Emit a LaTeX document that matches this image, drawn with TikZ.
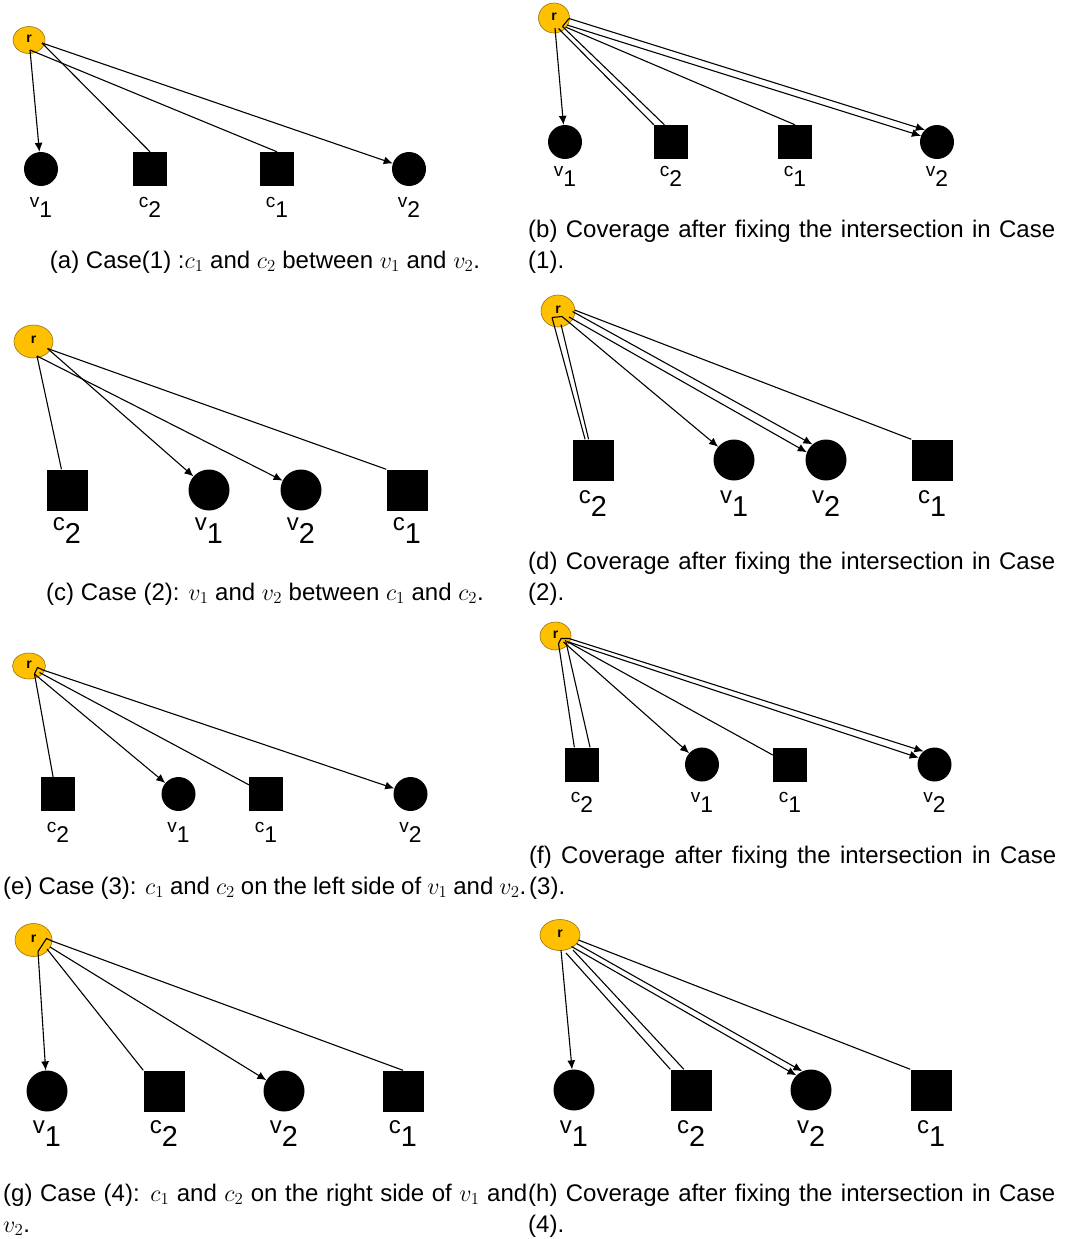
\RequirePackage{fix-cm}
\documentclass[tikz,border=0pt]{standalone}
\usepackage{amsmath}
\usepackage{graphicx}
\usepackage{fontspec}
\setmainfont{Liberation Sans}
\usetikzlibrary{arrows.meta,shapes.geometric}
\newcommand{\subidx}[1]{\raisebox{-.55em}{\scalebox{1.2}{#1}}}

\begin{document}
\begin{tikzpicture}[x=1pt, y=-1pt,
  root/.style={ellipse, draw={rgb,255:red,150;green,115;blue,20}, line width=.6pt,
    fill={rgb,255:red,255;green,192;blue,0}, inner sep=0pt, text depth=3pt,
    font=\bfseries\fontsize{14}{14}\selectfont},
  blob/.style={fill=black, inner sep=0pt},
  lbl/.style={anchor=base, inner sep=0pt, font=\fontsize{#1}{#1}\selectfont},
  link/.style={line width=1.1pt},
  arr/.style={link, -{Latex[length=9pt,width=8pt]}},
  subcap/.style={inner sep=0pt, font=\fontsize{24}{31}\selectfont}]
  \useasboundingbox (0,0) rectangle (1071,1239);

  \node[root, minimum width=32, minimum height=27] (a-r) at (29,40) {r};
  \coordinate (a-p1) at (30,50);
  \coordinate (a-p2) at (42,43);
  \foreach \n/\s/\x/\ltr/\idx in {v1/circle/41/v/1, c2/rectangle/150/c/2, c1/rectangle/277/c/1, v2/circle/409/v/2} {
    \node[blob, shape=\s, minimum size=34] (a-\n) at (\x,169) {};
    \node[lbl=19] (a-\n-lbl) at (\x,207) {\ltr\subidx{\idx}};
  }
  \draw[arr] (a-p1) -- (a-v1);
  \draw[link] (a-p2) -- (a-c2.north);
  \draw[link] (a-p1) -- (a-c1.north);
  \draw[arr] (a-p2) -- (a-v2);
  \node[subcap, anchor=base] (a-cap) at (265,268) {(a) Case(1) :$c_1$ and $c_2$ between $v_1$ and $v_2$.};

  \node[root, minimum width=31, minimum height=30] (b-r) at (554,18) {r};
  \coordinate (b-p1) at (555,28);
  \coordinate (b-p2) at (558.5,28.5);
  \coordinate (b-p3) at (562.5,26.5);
  \coordinate (b-p4) at (565.5,27);
  \coordinate (b-p5) at (569,18.5);
  \coordinate (b-p6) at (567,25);
  \foreach \n/\s/\x/\ltr/\idx in {v1/circle/565/v/1, c2/rectangle/671/c/2, c1/rectangle/795/c/1, v2/circle/937/v/2} {
    \node[blob, shape=\s, minimum size=34] (b-\n) at (\x,142) {};
    \node[lbl=19] (b-\n-lbl) at (\x,176) {\ltr\subidx{\idx}};
  }
  \draw[arr] (b-p1) -- (b-v1);
  \draw[link] (b-p2) -- (b-c2.north west);
  \draw[link] (b-p3) -- (b-c2.111);
  \draw[link] (b-p4) -- (b-c1.north);
  \draw[arr] (b-p5) -- (b-v2.135);
  \draw[arr] (b-p6) -- (b-v2.159);
  \draw[link] (b-p3) -- (b-p5);
  \node[subcap, anchor=base west] (b-cap) at (528,237) {\parbox[t]{527pt}{(b) Coverage after fixing the intersection in Case\linebreak (1).}};

  \node[root, minimum width=39, minimum height=33] (c-r) at (33.5,341.5) {r};
  \coordinate (c-p1) at (47.5,348.5);
  \coordinate (c-p2) at (37,356);
  \foreach \n/\s/\x/\ltr/\idx in {c2/rectangle/67/c/2, v1/circle/209/v/1, v2/circle/301/v/2, c1/rectangle/407/c/1} {
    \node[blob, shape=\s, minimum size=41] (c-\n) at (\x,490) {};
    \node[lbl=24] (c-\n-lbl) at (\x,530.5) {\ltr\subidx{\idx}};
  }
  \draw[link] (c-p2) -- (c-c2.105);
  \draw[arr] (c-p1) -- (c-v1);
  \draw[arr] (c-p2) -- (c-v2);
  \draw[link] (c-p1) -- (c-c1.north west);
  \node[subcap, anchor=base] (c-cap) at (265,600) {(c) Case (2): $v_1$ and $v_2$ between $c_1$ and $c_2$.};

  \node[root, minimum width=34, minimum height=32] (d-r) at (558,311) {r};
  \coordinate (d-p1) at (552,317.5);
  \coordinate (d-p2) at (561,324.5);
  \coordinate (d-p3) at (562,316.5);
  \coordinate (d-p4) at (569,317);
  \coordinate (d-p5) at (572.5,311.5);
  \coordinate (d-p6) at (574.5,310);
  \foreach \n/\s/\x/\ltr/\idx in {c2/rectangle/593/c/2, v1/circle/734/v/1, v2/circle/826/v/2, c1/rectangle/932/c/1} {
    \node[blob, shape=\s, minimum size=41] (d-\n) at (\x,460) {};
    \node[lbl=24] (d-\n-lbl) at (\x,503) {\ltr\subidx{\idx}};
  }
  \draw[link] (d-p1) -- (d-c2.111);
  \draw[link] (d-p2) -- (d-c2.102);
  \draw[arr] (d-p3) -- (d-v1);
  \draw[arr] (d-p4) -- (d-v2.158);
  \draw[arr] (d-p5) -- (d-v2.131);
  \draw[link] (d-p6) -- (d-c1.north west);
  \draw[link] (d-p1) -- (d-p3);
  \node[subcap, anchor=base west] (d-cap) at (528,569) {\parbox[t]{527pt}{(d) Coverage after fixing the intersection in Case\linebreak (2).}};

  \node[root, minimum width=33, minimum height=26] (e-r) at (29,666) {r};
  \coordinate (e-p1) at (34.5,674);
  \coordinate (e-j) at (37.5,667.5);
  \coordinate (e-p2) at (39.5,672.5);
  \coordinate (e-p3) at (43,670);
  \foreach \n/\s/\x/\ltr/\idx in {c2/rectangle/58/c/2, v1/circle/178.5/v/1, c1/rectangle/266/c/1, v2/circle/410.5/v/2} {
    \node[blob, shape=\s, minimum size=34] (e-\n) at (\x,794) {};
    \node[lbl=19] (e-\n-lbl) at (\x,832) {\ltr\subidx{\idx}};
  }
  \draw[link] (e-p1) -- (e-c2.106);
  \draw[arr] (e-p1) -- (e-v1);
  \draw[link] (e-p2) -- (e-c1);
  \draw[arr] (e-p3) -- (e-v2);
  \draw[link] (e-p1) -- (e-j) -- (e-p3);
  \node[subcap, anchor=base west] (e-cap) at (3,894) {\makebox[523pt][s]{(e) Case (3): $c_1$ and $c_2$ on the left side of $v_1$ and $v_2$.}};

  \node[root, minimum width=31, minimum height=28] (f-r) at (555.5,636) {r};
  \coordinate (f-p1) at (558.5,643.5);
  \coordinate (f-j) at (561,638.5);
  \coordinate (f-p2) at (565.5,640);
  \coordinate (f-p3) at (563.5,642);
  \coordinate (f-p4) at (567,641.5);
  \coordinate (f-p5) at (569,638.5);
  \foreach \n/\s/\x/\ltr/\idx in {c2/rectangle/582/c/2, v1/circle/702/v/1, c1/rectangle/790/c/1, v2/circle/934.5/v/2} {
    \node[blob, shape=\s, minimum size=34] (f-\n) at (\x,764.5) {};
    \node[lbl=19] (f-\n-lbl) at (\x,802) {\ltr\subidx{\idx}};
  }
  \draw[link] (f-p1) -- (f-c2.114);
  \draw[link] (f-p2) -- (f-c2.65);
  \draw[arr] (f-p3) -- (f-v1);
  \draw[link] (f-p4) -- (f-c1);
  \draw[arr] (f-p5) -- (f-v2.130);
  \draw[arr] (f-p4) -- (f-v2.157);
  \draw[link] (f-p1) -- (f-j) -- (f-p5);
  \node[subcap, anchor=base west] (f-cap) at (529,863) {\parbox[t]{527pt}{(f) Coverage after fixing the intersection in Case\linebreak (3).}};

  \node[root, minimum width=37, minimum height=33] (g-r) at (33.5,940) {r};
  \coordinate (g-p1) at (38,951.5);
  \coordinate (g-j) at (46.5,938.5);
  \coordinate (g-p2) at (52,941);
  \coordinate (g-p3) at (47,949);
  \coordinate (g-p4) at (50,947);
  \foreach \n/\s/\x/\ltr/\idx in {v1/circle/47/v/1, c2/rectangle/164/c/2, v2/circle/284/v/2, c1/rectangle/403/c/1} {
    \node[blob, shape=\s, minimum size=41] (g-\n) at (\x,1091) {};
    \node[lbl=24] (g-\n-lbl) at (\x,1133) {\ltr\subidx{\idx}};
  }
  \draw[arr] (g-p1) -- (g-v1);
  \draw[link] (g-p3) -- (g-c2.north west);
  \draw[arr] (g-p4) -- (g-v2);
  \draw[link] (g-p2) -- (g-c1.north);
  \draw[link] (g-p1) -- (g-j) -- (g-p2);
  \node[subcap, anchor=base west] (g-cap) at (3,1201) {\parbox[t]{524pt}{(g) Case (4): $c_1$ and $c_2$ on the right side of $v_1$ and\linebreak $v_2$.}};

  \node[root, minimum width=40, minimum height=31] (h-r) at (560,935) {r};
  \coordinate (h-p1) at (561,950);
  \coordinate (h-p2) at (566,953);
  \coordinate (h-p3) at (573,950);
  \coordinate (h-p4) at (571.5,946.5);
  \coordinate (h-p5) at (576.5,943.5);
  \coordinate (h-p6) at (578.5,940);
  \foreach \n/\s/\x/\ltr/\idx in {v1/circle/574/v/1, c2/rectangle/691/c/2, v2/circle/811/v/2, c1/rectangle/931/c/1} {
    \node[blob, shape=\s, minimum size=41] (h-\n) at (\x,1090) {};
    \node[lbl=24] (h-\n-lbl) at (\x,1133) {\ltr\subidx{\idx}};
  }
  \draw[arr] (h-p1) -- (h-v1);
  \draw[link] (h-p2) -- (h-c2.north west);
  \draw[link] (h-p3) -- (h-c2.109);
  \draw[arr] (h-p4) -- (h-v2.135);
  \draw[arr] (h-p5) -- (h-v2.115);
  \draw[link] (h-p6) -- (h-c1.north west);
  \node[subcap, anchor=base west] (h-cap) at (528,1201) {\parbox[t]{527pt}{(h) Coverage after fixing the intersection in Case\linebreak (4).}};
\end{tikzpicture}
\end{document}
